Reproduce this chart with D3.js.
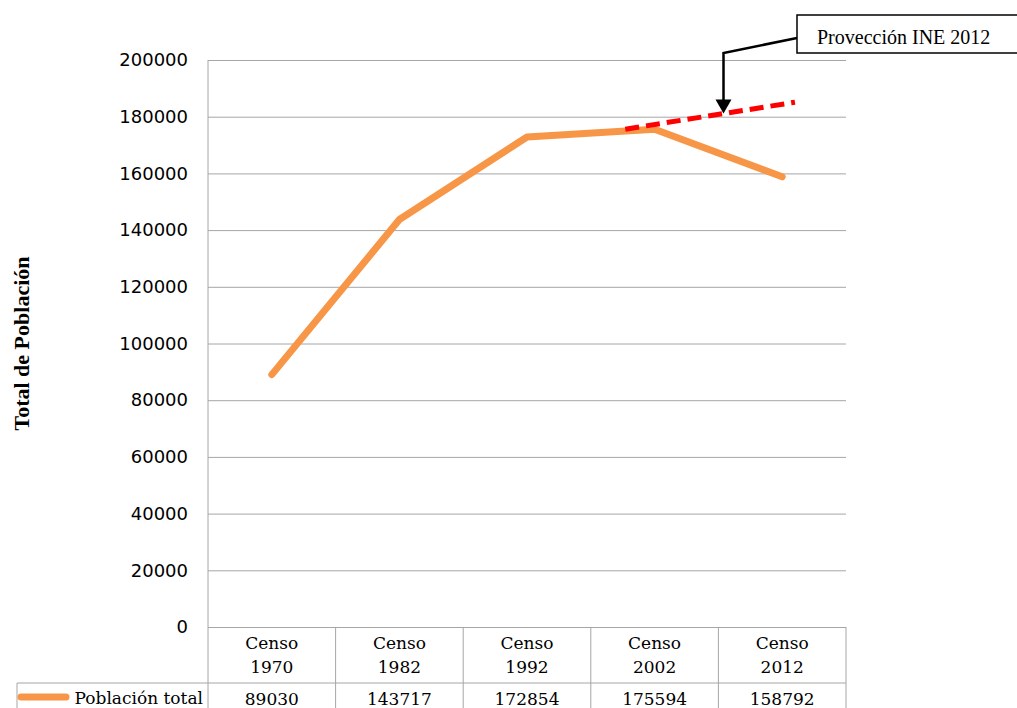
<!DOCTYPE html>
<html>
<head>
<meta charset="utf-8">
<script src="https://cdn.jsdelivr.net/npm/d3@7"></script>
<style>
  body { margin: 0; background: #fff; }
  svg { display: block; }
</style>
</head>
<body>
<div id="chart"></div>
<script>
// DATA
var categories = ["Censo 1970", "Censo 1982", "Censo 1992", "Censo 2002", "Censo 2012"]
var poblacion = [89030, 143717, 172854, 175594, 158792]
var serieName = "Población total"
// projection line (position in category index, value)
var projIdx = [2.77, 4.1]
var projVal = [175600, 185100]
var projLabel = "Provección INE 2012"
var yTicks = [0, 20000, 40000, 60000, 80000, 100000, 120000, 140000, 160000, 180000, 200000]
var yTitle = "Total de Población"

// DIMENSIONS
var svgWidth = 1017
var svgHeight = 708
var plot = { left: 208, right: 846, top: 60, bottom: 627 }
var headRow = 56
var legendLeft = 17

var svg = d3.select("#chart").append("svg")
    .attr("width", svgWidth)
    .attr("height", svgHeight)

var x = d3.scaleLinear().domain([-0.5, categories.length - 0.5]).range([plot.left, plot.right])
var y = d3.scaleLinear().domain([0, 200000]).range([plot.bottom, plot.top])
var colW = x(1) - x(0)

var grey = "#a6a6a6"
var orange = "#f79646"

// gridlines + y labels
var yAxis = d3.axisLeft(y)
    .tickValues(yTicks)
    .tickSize(-(plot.right - plot.left))
    .tickPadding(20)
    .tickFormat(d3.format("d"))

var gy = svg.append("g")
    .attr("transform", `translate(${plot.left},0)`)
    .call(yAxis)
gy.select(".domain").remove()
gy.selectAll(".tick line").attr("stroke", grey).attr("stroke-width", 1)
gy.selectAll(".tick text")
    .attr("fill", "#000")
    .style("font-family", "DejaVu Sans")
    .style("font-size", "18px")

// left axis line, runs down into table
svg.append("line")
    .attr("x1", plot.left).attr("x2", plot.left)
    .attr("y1", plot.top).attr("y2", svgHeight)
    .attr("stroke", grey)

// y title
svg.append("text")
    .attr("transform", `translate(29, ${(plot.top + plot.bottom) / 2}) rotate(-90)`)
    .attr("text-anchor", "middle")
    .style("font-family", "Liberation Serif")
    .style("font-weight", "bold")
    .style("font-size", "22px")
    .text(yTitle)

// DATA TABLE
var tbl = svg.append("g")
var rowY = plot.bottom + headRow

tbl.append("line")
    .attr("x1", legendLeft).attr("x2", plot.right)
    .attr("y1", rowY).attr("y2", rowY)
    .attr("stroke", grey)
tbl.append("line")
    .attr("x1", legendLeft).attr("x2", legendLeft)
    .attr("y1", rowY).attr("y2", svgHeight)
    .attr("stroke", grey)

categories.forEach(function(c, i) {
    tbl.append("line")
        .attr("x1", x(i) + colW / 2).attr("x2", x(i) + colW / 2)
        .attr("y1", plot.bottom).attr("y2", svgHeight)
        .attr("stroke", grey)
    var parts = c.split(" ")
    tbl.append("text")
        .attr("x", x(i)).attr("y", plot.bottom + 22)
        .attr("text-anchor", "middle")
        .style("font-family", "DejaVu Serif")
        .style("font-size", "17px")
        .text(parts[0])
    tbl.append("text")
        .attr("x", x(i)).attr("y", plot.bottom + 46)
        .attr("text-anchor", "middle")
        .style("font-family", "DejaVu Serif")
        .style("font-size", "17px")
        .text(parts[1])
    tbl.append("text")
        .attr("x", x(i)).attr("y", rowY + 22)
        .attr("text-anchor", "middle")
        .style("font-family", "DejaVu Serif")
        .style("font-size", "17px")
        .text(poblacion[i])
})

// legend key
tbl.append("line")
    .attr("x1", legendLeft + 4).attr("x2", legendLeft + 49)
    .attr("y1", rowY + 14).attr("y2", rowY + 14)
    .attr("stroke", orange)
    .attr("stroke-width", 7)
    .attr("stroke-linecap", "round")
tbl.append("text")
    .attr("x", plot.left - 5).attr("y", rowY + 21)
    .attr("text-anchor", "end")
    .style("font-family", "DejaVu Serif")
    .style("font-size", "17px")
    .text(serieName)

// POPULATION LINE
var line = d3.line()
    .x((d, i) => x(i))
    .y(d => y(d))

svg.append("path")
    .datum(poblacion)
    .attr("d", line)
    .attr("fill", "none")
    .attr("stroke", orange)
    .attr("stroke-width", 7)
    .attr("stroke-linecap", "round")
    .attr("stroke-linejoin", "round")

// PROJECTION LINE
var proj = projIdx.map((d, i) => [d, projVal[i]])
svg.append("path")
    .datum(proj)
    .attr("d", d3.line().x(d => x(d[0])).y(d => y(d[1])))
    .attr("fill", "none")
    .attr("stroke", "#ff0000")
    .attr("stroke-width", 5)
    .attr("stroke-dasharray", "14,7")

// ANNOTATION
var box = { x: 797, y: 15, w: 240, h: 38 }
var tipIdx = 3.54
var tipVal = projVal[0] + (tipIdx - projIdx[0]) / (projIdx[1] - projIdx[0]) * (projVal[1] - projVal[0])
var tipX = x(tipIdx)
var tipY = y(tipVal)

svg.append("path")
    .attr("d", `M${box.x},${box.y + box.h / 2 + 4} L${tipX},${box.y + box.h} L${tipX},${tipY - 12}`)
    .attr("fill", "none")
    .attr("stroke", "#000")
    .attr("stroke-width", 2.5)
svg.append("path")
    .attr("d", `M${tipX - 8},${tipY - 14} L${tipX + 8},${tipY - 14} L${tipX},${tipY} Z`)
    .attr("fill", "#000")

svg.append("rect")
    .attr("x", box.x).attr("y", box.y)
    .attr("width", box.w).attr("height", box.h)
    .attr("fill", "#fff")
    .attr("stroke", "#000")
    .attr("stroke-width", 1.5)
svg.append("text")
    .attr("x", box.x + 20).attr("y", box.y + 29)
    .style("font-family", "Liberation Serif")
    .style("font-size", "20px")
    .text(projLabel)
</script>
</body>
</html>
